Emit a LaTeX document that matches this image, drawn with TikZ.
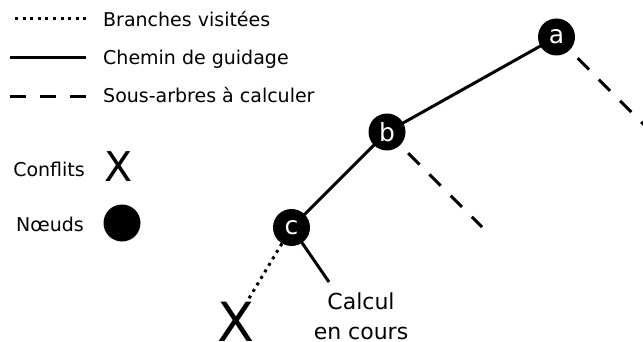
\documentclass[tikz,border=0pt]{standalone}
\usepackage{fontspec}
\setmainfont{DejaVu Sans}
\begin{document}
\begin{tikzpicture}[x=1pt, y=-1pt,
    knot/.style={circle, fill=black, text=white, minimum size=37pt, inner sep=0pt, font=\fontsize{25}{25}\selectfont},
    guide/.style={line width=3pt},
    visited/.style={line width=3pt, dash pattern=on 3pt off 4.6pt},
    todo/.style={line width=3pt, dash pattern=on 16pt off 14pt},
    legend/.style={inner sep=0pt, font=\fontsize{19}{23}\selectfont}]
    \useasboundingbox (0,0) rectangle (643,342);
    % legende
    \coordinate (v1) at (15,19);
    \coordinate (v2) at (86,19);
    \coordinate (g1) at (10,58);
    \coordinate (g2) at (86,58);
    \coordinate (d1) at (10,97);
    \coordinate (d2) at (88,97);
    \draw[visited] (v1) -- (v2);
    \draw[guide] (g1) -- (g2);
    \draw[todo] (d1) -- (d2);
    \node[legend, anchor=base west] (lv) at (103,27) {Branches visitées};
    \node[legend, anchor=base west] (lg) at (103,65) {Chemin de guidage};
    \node[legend, anchor=base west] (ld) at (103,103) {Sous-arbres à calculer};
    \node[legend, anchor=base east] (lc) at (85,177) {Conflits};
    \node[legend, anchor=base east] (ln) at (84,232) {Nœuds};
    \node[inner sep=0pt, anchor=base, font=\fontsize{41}{41}\selectfont] (xl) at (119,182) {X};
    \node[circle, fill=black, minimum size=37pt, inner sep=0pt] (kl) at (122,223) {};
    % arbre
    \coordinate (ea) at (680,161);
    \coordinate (eb) at (482,227);
    \coordinate (ec) at (329,282);
    \coordinate (ex) at (248,300);
    \draw[guide] (556.5,37) -- (387,132) -- (291.5,227.5) -- (ec);
    \draw[todo] (556.5,37) -- (ea);
    \draw[todo] (387,132) -- (eb);
    \node[knot] (a) at (556.5,37) {a};
    \node[knot] (b) at (387,132) {b};
    \node[knot] (c) at (291.5,227.5) {c};
    \draw[visited] (c) -- (ex);
    \node[inner sep=0pt, anchor=base, font=\fontsize{54}{54}\selectfont] (xc) at (236,341) {X};
    \node[inner sep=0pt, anchor=base, align=center, font=\fontsize{22}{30}\selectfont] (calc) at (361,339) {Calcul\\en cours};
\end{tikzpicture}
\end{document}
